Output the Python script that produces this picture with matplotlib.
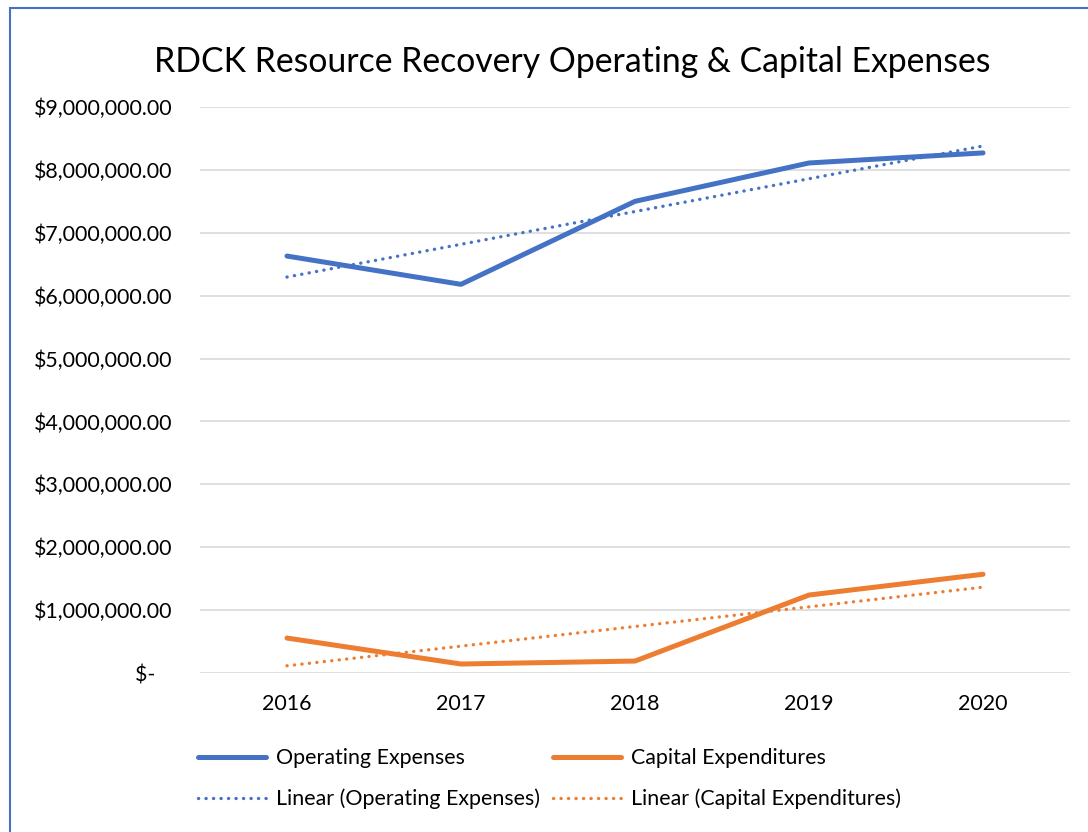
import numpy as np
import matplotlib.pyplot as plt
from matplotlib.patches import Rectangle
from matplotlib.ticker import FuncFormatter

plt.rcParams['font.family'] = ['Lato', 'DejaVu Sans']

# values
years = ["2016", "2017", "2018", "2019", "2020"]
operating = [6630000, 6180000, 7500000, 8110000, 8270000]
capital = [556000, 143000, 190000, 1240000, 1570000]
y_ticks = [0, 1e6, 2e6, 3e6, 4e6, 5e6, 6e6, 7e6, 8e6, 9e6]

blue = "#4472C4"
orange = "#ED7D31"

fig = plt.figure(figsize=(10.88, 8.32), dpi=100)
ax = fig.add_axes([0.1838, 0.1911, 0.7997, 0.6803])

x = np.arange(len(years))

# linear trendlines, like Excel's
op_fit = np.polyval(np.polyfit(x, operating, 1), x)
cap_fit = np.polyval(np.polyfit(x, capital, 1), x)

dots = (0, (0.05, 2.2))
l1, = ax.plot(x, operating, color=blue, lw=3.6, solid_capstyle="round",
              solid_joinstyle="round", label="Operating Expenses", zorder=3)
l2, = ax.plot(x, capital, color=orange, lw=3.6, solid_capstyle="round",
              solid_joinstyle="round", label="Capital Expenditures", zorder=3)
l3, = ax.plot(x, op_fit, color=blue, lw=2.4, linestyle=dots,
              dash_capstyle="round", label="Linear (Operating Expenses)", zorder=2)
l4, = ax.plot(x, cap_fit, color=orange, lw=2.4, linestyle=dots,
              dash_capstyle="round", label="Linear (Capital Expenditures)", zorder=2)

ax.set_xlim(-0.5, len(years) - 0.5)
ax.set_ylim(0, 9e6)
ax.set_xticks(x)
ax.set_xticklabels(years)
ax.set_yticks(y_ticks)


def money(v, pos):
    if v == 0:
        return "$-   "
    return f"${v:,.2f}"


ax.yaxis.set_major_formatter(FuncFormatter(money))
ax.tick_params(axis="both", length=0, labelsize=15.4, colors="black")
ax.tick_params(axis="y", pad=20)
ax.tick_params(axis="x", pad=15)
ax.grid(axis="y", color="#D9D9D9", lw=1.2)
ax.set_axisbelow(True)
for s in ax.spines.values():
    s.set_visible(False)

fig.text(0.526, 0.926, "RDCK Resource Recovery Operating & Capital Expenses",
         ha="center", va="center", fontsize=24.3)

fig.legend(handles=[l1, l3, l2, l4], ncol=2, loc="center",
           bbox_to_anchor=(0.505, 0.064), frameon=False, fontsize=15.4,
           handlelength=3.2, handletextpad=0.45, columnspacing=0.6,
           labelspacing=0.95)

# chart border
fig.patches.append(Rectangle((10 / 1088, -0.1), 1.2, 1.1 - 8 / 832,
                             transform=fig.transFigure, fill=False,
                             edgecolor=blue, lw=1.5))

fig.savefig("out.png", dpi=100)
